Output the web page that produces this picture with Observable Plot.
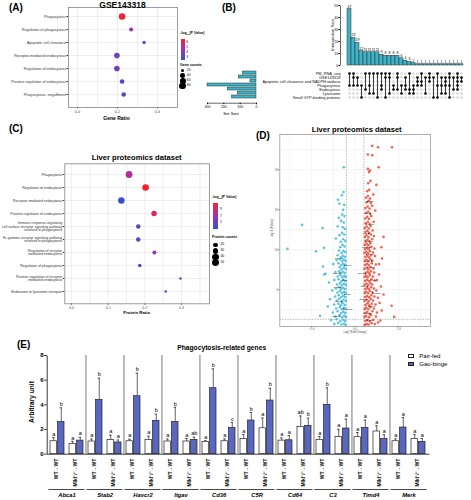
<!DOCTYPE html>
<html><head><meta charset="utf-8">
<script src="https://cdn.jsdelivr.net/npm/d3@7"></script>
<script src="https://cdn.jsdelivr.net/npm/@observablehq/plot@0.6"></script>
<style>
body{margin:0;background:#fff;}
#fig{position:relative;width:471px;height:500px;overflow:hidden;font-family:"Liberation Sans",Arial,Helvetica,sans-serif;background:#fff;}
.t{position:absolute;white-space:nowrap;line-height:1;color:#000;}
.box{position:absolute;border:0.8px solid #222;box-sizing:border-box;}
.dotl{position:absolute;border-radius:50%;background:#000;}
</style></head><body><div id="fig"></div>
<script>
// ---------------- DATA ----------------
// (A) GSE143318 enrichment
const catsA = ["Phagocytosis","Regulation of phagocytosis","Apoptotic cell clearance","Receptor-mediated endocytosis","Regulation of endocytosis","Positive regulation of endocytosis","Phagocytosis, engulfment"];
const ratioA = [0.223,0.268,0.333,0.197,0.197,0.223,0.231];
const logpA  = [6.6,4.6,3.3,3.6,3.6,3.0,2.9];
const countA = [80,30,22,58,58,40,38];
const legendA = [6,5,4,3];
const countTicksA = [20,40,60,80];

// (B) UpSet
const setNames = ["PM_RNA_seq","GSE143318","Apoptotic cell clearance and NADPH oxidase","Phagocytosis","Endocytosis","Lysosome","Small GTP-binding proteins"];
const setSizes = [82,108,37,300,176,115,149];
const interSizes = [47,23,19,12,11,11,11,11,9,8,8,8,8,6,4,3,2,1,1,1,1,1,1,1,1,1,1,1,1];
const interSets = [[0,3],[0,1,3],[1,3],[3,6],[0,4],[0,3,5],[0,5],[0,6],[0,3,4],[0,1,6],[0,1,5],[3,4],[0,1,4],[3,5],[1,3,4],[0,4,5],[3,4,5],
  [1,2,3],[0,2,3],[1,5],[0,1,2],[1,6],[0,3,6],[1,3,5],[1,2,3,5],[0,1,3,6],[1,4],[0,1,2,3,4],[1,2]];

// (C) Liver proteomics enrichment
const catsC = ["Phagocytosis","Regulation of endocytosis","Receptor-mediated endocytosis","Positive regulation of endocytosis",
  "Immune response-regulating\ncell surface receptor signaling pathway\ninvolved in phagocytosis",
  "Fc-gamma receptor signaling pathway\ninvolved in phagocytosis","Regulation of receptor\n-mediated endocytosis",
  "Regulation of phagocytosis","Positive regulation of receptor\n-mediated endocytosis","Endosome to lysosome transport"];
const ratioC = [0.157,0.202,0.136,0.225,0.182,0.182,0.226,0.186,0.297,0.257];
const logpC  = [7.8,10.8,3.6,9.5,4.4,4.5,6.3,4.0,6.0,5.0];
const countC = [50,48,46,32,22,22,18,14,7,7];
const legendC = [9,7,5];
const countTicksC = [20,30,40,50];

// (D) Volcano: [log2FC, -log10 P]
const downBlue = [[-0.44,0.6],[-0.52,0.75],[-0.63,0.65],[-0.78,0.85],[-0.95,0.7],[-1.61,1.75],[-0.47,1.1],[-0.56,1.25],[-0.68,1.05],[-0.85,1.3],[-1.1,1.2],
 [-0.43,1.6],[-0.5,1.75],[-0.6,1.55],[-0.72,1.8],[-0.9,1.65],[-0.46,2.1],[-0.55,2.25],[-0.65,2.05],[-0.8,2.3],[-1.02,2.15],
 [-0.44,2.6],[-0.52,2.75],[-0.61,2.55],[-0.7,2.8],[-0.87,2.65],[-1.25,2.9],[-0.48,3.1],[-0.57,3.3],[-0.66,3.05],[-0.77,3.25],[-0.96,3.15],
 [-0.43,3.6],[-0.53,3.75],[-0.62,3.55],[-0.73,3.85],[-0.84,3.65],[-1.15,3.8],[-0.46,4.1],[-0.55,4.25],[-0.64,4.05],[-0.75,4.3],[-0.92,4.15],
 [-0.44,4.6],[-0.51,4.75],[-0.6,4.55],[-0.69,4.8],[-0.81,4.65],[-1.05,4.9],[-0.47,5.1],[-0.56,5.25],[-0.65,5.05],[-0.74,5.3],[-0.88,5.15],
 [-0.43,5.6],[-0.52,5.75],[-0.61,5.55],[-0.7,5.8],[-0.83,5.65],[-1.2,5.9],[-0.46,6.1],[-0.55,6.25],[-0.63,6.05],[-0.76,6.3],[-0.95,6.2],
 [-0.44,6.6],[-0.5,6.75],[-0.59,6.55],[-0.68,6.8],[-0.8,6.65],[-1.36,7.0],[-1.42,6.9],[-0.48,7.1],[-0.57,7.25],[-0.66,7.05],[-0.73,7.3],[-0.9,7.2],
 [-0.43,7.6],[-0.53,7.75],[-0.62,7.55],[-0.71,7.8],[-1.47,7.9],[-0.46,8.1],[-0.55,8.25],[-0.64,8.05],[-0.77,8.3],[-1.0,8.2],
 [-0.44,8.6],[-0.52,8.75],[-0.6,8.55],[-0.7,8.8],[-0.85,8.7],[-0.47,9.1],[-0.56,9.25],[-0.65,9.05],[-0.8,9.3],[-1.79,9.8],
 [-0.45,9.7],[-0.54,9.85],[-0.62,9.6],[-0.74,9.9],[-3.1,10.1],[-1.42,10.25],[-0.48,10.4],[-0.58,10.6],[-0.68,10.3],
 [-0.45,11.1],[-0.55,11.3],[-0.66,11.0],[-0.88,11.4],[-0.5,11.9],[-0.6,12.1],[-0.72,11.8],[-0.47,12.6],[-0.57,12.8],[-1.49,12.7],[-0.8,12.9],
 [-0.52,13.4],[-0.64,13.6],[-2.43,13.1],[-0.49,14.2],[-0.6,14.4],[-0.75,14.0],[-0.55,15.0],[-0.72,15.75],[-0.5,15.6],
 [-0.79,16.25],[-0.61,16.8],[-0.53,17.2],[-0.52,20.3]];
const upRed = [[0.44,0.6],[0.52,0.7],[0.61,0.65],[0.75,0.8],[0.9,0.7],[1.05,0.9],[0.47,1.1],[0.56,1.2],[0.68,1.05],[0.83,1.25],[1.15,1.15],[1.79,1.6],
 [0.43,1.6],[0.5,1.7],[0.63,1.55],[0.72,1.8],[0.95,1.65],[0.46,2.1],[0.55,2.2],[0.66,2.0],[0.79,2.3],[1.0,2.15],[1.22,2.4],
 [0.44,2.6],[0.51,2.75],[0.6,2.55],[0.7,2.8],[0.86,2.65],[1.67,3.0],[0.48,3.1],[0.57,3.3],[0.65,3.05],[0.76,3.25],[0.93,3.15],[1.12,3.35],
 [0.43,3.6],[0.53,3.75],[0.62,3.55],[0.71,3.85],[0.82,3.65],[1.3,4.4],[0.46,4.1],[0.55,4.2],[0.64,4.05],[0.74,4.3],[0.88,4.15],[1.04,4.0],
 [0.44,4.6],[0.5,4.75],[0.59,4.55],[0.68,4.8],[0.8,4.65],[0.97,4.9],[0.47,5.1],[0.56,5.25],[0.63,5.05],[0.73,5.3],[0.86,5.15],[1.18,5.4],
 [0.43,5.6],[0.52,5.75],[0.6,5.55],[0.69,5.8],[0.78,5.65],[1.0,6.2],[0.46,6.1],[0.55,6.25],[0.64,6.05],[0.75,6.3],[0.9,6.15],
 [0.44,6.6],[0.51,6.75],[0.58,6.55],[0.67,6.8],[0.81,6.65],[1.1,6.9],[0.48,7.1],[0.57,7.25],[0.65,7.05],[0.72,7.3],[0.87,7.15],
 [0.43,7.6],[0.53,7.75],[0.61,7.55],[0.7,7.8],[0.84,7.65],[1.09,8.2],[0.46,8.1],[0.55,8.25],[0.63,8.05],[0.76,8.3],[0.95,8.15],[1.23,8.9],
 [0.44,8.6],[0.52,8.75],[0.6,8.55],[0.69,8.8],[0.79,8.65],[0.47,9.1],[0.56,9.25],[0.64,9.05],[0.73,9.3],[0.91,9.2],
 [0.43,9.6],[0.51,9.75],[0.59,9.55],[0.68,9.8],[0.82,9.65],[1.2,10.3],[0.46,10.1],[0.55,10.25],[0.62,10.05],[0.74,10.35],[0.88,10.15],
 [0.44,10.6],[0.53,10.75],[0.6,10.55],[0.7,10.8],[1.3,11.6],[0.48,11.1],[0.57,11.25],[0.66,11.05],[0.78,11.3],
 [0.45,11.6],[0.52,11.8],[0.61,11.55],[0.72,11.9],[0.86,11.7],[0.47,12.2],[0.56,12.35],[0.64,12.1],[0.8,12.4],
 [0.44,12.7],[0.53,12.9],[0.62,12.65],[0.71,12.95],[0.48,13.3],[0.58,13.45],[0.67,13.2],[0.85,13.5],
 [0.46,13.9],[0.55,14.1],[0.63,13.85],[0.74,14.2],[0.5,14.6],[0.6,14.75],[0.69,14.5],[0.92,14.9],
 [0.47,15.2],[0.57,15.4],[0.66,15.15],[0.78,15.5],[0.52,15.9],[0.62,16.1],[0.72,15.85],
 [0.49,16.5],[0.58,16.7],[0.68,16.4],[0.83,16.9],[0.55,17.3],[0.64,17.5],[0.97,18.1],[0.6,18.3],[0.7,18.6],
 [0.63,19.7],[0.68,19.9],[0.58,20.1],[1.08,20.3],[0.58,21.9],[0.78,21.8],[0.78,23.0],[1.05,22.8],[1.69,22.8]];
const labeledD = [["Cd36",0.55,16.0],["Rab7",0.7,14.5],["Lamp1",0.5,13.2],["Ctsd",0.62,12.0],["Cd68",0.48,11.0],["Clec4f",0.66,10.3],
 ["Marco",0.52,9.4],["Msr1",0.75,8.6],["Vsig4",0.58,7.8],["Cd163",0.47,7.0],["Lrp1",0.69,6.2],["Dab2",0.56,5.4],["Rab5a",0.8,4.6],
 ["Eea1",0.5,3.8],["Rac1",0.63,2.9],["Cdc42",0.72,2.0],["Snx9",0.55,1.2],
 ["Timd4",-0.6,8.9],["Mertk",-0.5,8.0],["Stab2",-0.7,7.1],["C3",-0.55,6.2],["Fcgr1",-0.66,5.3],["Itgav",-0.48,4.4],["Abca1",-0.62,3.5],["Havcr2",-0.52,2.6],["C5ar1",-0.7,1.7]];

// (E) qPCR bars: per gene [WT pair-fed, WT gao-binge, KO pair-fed, KO gao-binge]
const genesE = ["Abca1","Stab2","Havcr2","Itgav","Cd36","C5R","Cd64","C3","Timd4","Merk"];
const donorsE = ["WT→WT","Mlkl⁻/⁻→WT"];
const dietsE = ["Pair-fed","Gao-binge"];
const meanE = [[1.05,2.6,0.84,1.1],[1.03,4.4,1.16,0.95],[1.05,4.7,1.16,2.7],[1.03,2.6,1.03,1.16],[1.0,5.35,1.05,2.14],
  [1.22,2.73,2.1,4.35],[1.1,1.13,2.2,2.3],[1.16,4.0,1.4,2.08],[1.38,2.14,1.84,1.22],[1.05,2.16,1.22,1.0]];
const errE = [[0.3,1.16,0.2,0.27],[0.2,1.76,0.38,0.2],[0.16,1.87,0.3,0.54],[0.2,1.2,0.25,0.22],[0.1,1.57,0.19,0.43],
  [0.38,0.65,0.84,1.0],[0.22,0.38,0.9,0.62],[0.27,1.38,0.62,0.76],[0.38,0.62,0.46,0.35],[0.19,0.81,0.38,0.27]];
const letterE = [["a","b","a","a"],["a","b","a","a"],["a","b","a","b"],["a","b","a","ab"],["a","b","a","c"],
  ["a","b","a","b"],["a","a","ab","b"],["a","b","a","a"],["a","a","a","a"],["a","a","a","a"]];
const ticksE = [0,2,4,6,8];

// ---------------- HELPERS ----------------
const fig = document.getElementById("fig");
const FONT = "'Liberation Sans', Arial, Helvetica, sans-serif";
function addPlot(frame, opts) {
  const [l, t, r, b] = frame;
  const svg = Plot.plot({
    width: 471, height: 500,
    marginLeft: l, marginTop: t, marginRight: 471 - r, marginBottom: 500 - b,
    style: {background: "transparent", position: "absolute", left: "0px", top: "0px", overflow: "visible", maxWidth: "none", fontFamily: FONT},
    ...opts
  });
  fig.appendChild(svg);
  return svg;
}
function txt(s, x, y, o = {}) {
  const d = document.createElement("div");
  d.className = "t";
  d.innerHTML = s;
  d.style.left = x + "px"; d.style.top = y + "px";
  d.style.fontSize = (o.size || 5) + "px";
  d.style.fontWeight = o.bold ? "bold" : "normal";
  if (o.italic) d.style.fontStyle = "italic";
  if (o.color) d.style.color = o.color;
  const ax = o.anchor === "middle" ? "-50%" : o.anchor === "end" ? "-100%" : "0";
  d.style.transform = `translate(${ax},-50%)` + (o.rotate ? ` rotate(${o.rotate}deg)` : "");
  fig.appendChild(d);
  return d;
}
function grad(x, y, w, h, colors) {
  const d = document.createElement("div");
  d.style.cssText = `position:absolute;left:${x}px;top:${y}px;width:${w}px;height:${h}px;background:linear-gradient(${colors.join(",")});`;
  fig.appendChild(d);
}
function circ(cx, cy, r) {
  const d = document.createElement("div");
  d.className = "dotl";
  d.style.cssText += `left:${cx - r}px;top:${cy - r}px;width:${2 * r}px;height:${2 * r}px;`;
  fig.appendChild(d);
}
const BLUE = "#3552cc", PURP = "#a032b4", RED = "#f5222f";
const LOGSUB = "-log<sub style='font-size:70%;vertical-align:-0.3em;line-height:0'>10</sub>(P Value)";

// ---------------- (A) ----------------
{
  const data = catsA.map((c, i) => ({c, x: ratioA[i], p: logpA[i], n: countA[i]}));
  const rA = d3.scaleSqrt().domain([0, 80]).range([0, 3.3]);
  addPlot([68, 7, 177, 107], {
    x: {domain: [-0.045, 0.5], axis: null},
    y: {type: "point", domain: catsA, range: [15, 94], padding: 0, axis: null},
    color: {type: "linear", domain: [2.4, 4.55, 6.7], range: [BLUE, PURP, RED]},
    r: {domain: [0, 80], range: [0, 3.3]},
    marks: [
      Plot.frame({fill: "white"}),
      Plot.gridX([0, 0.1, 0.2, 0.3, 0.4], {stroke: "#e3e3e3", strokeOpacity: 1, strokeWidth: 0.6}),
      Plot.gridY({stroke: "#e3e3e3", strokeOpacity: 1, strokeWidth: 0.6}),
      Plot.dot(data, {x: "x", y: "c", r: "n", fill: "p"}),
      Plot.axisX({ticks: [0, 0.2, 0.4], tickFormat: ".1f", fontSize: 3.8, tickSize: 1.5, tickPadding: 1, color: "#4d4d4d", label: null}),
      Plot.axisY({fontSize: 3.7, tickSize: 1.5, tickPadding: 1, color: "#333", label: null}),
      Plot.frame({stroke: "#858585", strokeWidth: 0.8})
    ]
  });
  txt("(A)", 9, 7.5, {size: 10, bold: true});
  txt("GSE143318", 122.5, 4.5, {size: 8.5, bold: true, anchor: "middle"});
  txt("Gene Ratio", 116.5, 117.5, {size: 5, bold: true, anchor: "middle"});
  txt(LOGSUB, 180, 33.5, {size: 3.6, bold: true});
  grad(181, 39.3, 3.5, 20.7, [RED, PURP, BLUE]);
  legendA.forEach((v, i) => txt(String(v), 186.3, 42.7 + i * 5, {size: 3.3}));
  txt("Gene counts", 180, 66, {size: 3.6, bold: true});
  countTicksA.forEach((v, i) => { circ(182.7, 70.7 + i * 5.1, rA(v)); txt(String(v), 186.8, 70.7 + i * 5.1, {size: 3.3}); });
}

// ---------------- (B) ----------------
{
  const colIds = interSizes.map((_, i) => "c" + i);
  const xB = {type: "band", domain: colIds, range: [341, 469], paddingInner: 0.1, paddingOuter: 0.02, axis: null};
  const inter = interSizes.map((v, i) => ({col: colIds[i], v}));
  const w1 = 469 - 340, h1 = 60;
  addPlot([340, 5, 469, 65], {
    x: xB,
    y: {domain: [0, 50], axis: null},
    marks: [
      Plot.barY(inter, {x: "col", y: "v", fill: "#3fb4c8", stroke: "#1e1e1e", strokeWidth: 0.45}),
      Plot.text(inter, {x: "col", y: "v", text: "v", dy: -2.6, fontSize: 3.5}),
      Plot.axisY({ticks: [0, 10, 20, 30, 40, 50], fontSize: 3.5, tickSize: 1.5, tickPadding: 0.8, label: null}),
      Plot.frame({stroke: "#000", strokeWidth: 0.6, strokeDasharray: `0 ${2 * w1 + h1} ${h1} 0`})
    ]
  });
  const cells = [];
  interSets.forEach((s, i) => setNames.forEach((n, j) => cells.push({col: colIds[i], set: n, on: s.includes(j)})));
  const links = interSets.map((s, i) => ({col: colIds[i], a: setNames[d3.min(s)], b: setNames[d3.max(s)]}));
  addPlot([341, 67, 469, 102], {
    x: xB,
    y: {type: "point", domain: setNames, range: [70, 99.5], padding: 0, axis: null},
    marks: [
      Plot.dot(cells, {x: "col", y: "set", r: 1.35, fill: "#d8d8d8"}),
      Plot.ruleX(links, {x: "col", y1: "a", y2: "b", stroke: "#111", strokeWidth: 0.8}),
      Plot.dot(cells.filter(d => d.on), {x: "col", y: "set", r: 1.35, fill: "#111"}),
      Plot.axisY({fontSize: 3.9, tickSize: 0, tickPadding: 1.2, color: "#111", label: null})
    ]
  });
  const sz = setNames.map((n, i) => ({n, v: setSizes[i]}));
  const w2 = 256 - 207, h2 = 102.7 - 67.5;
  addPlot([207, 67.5, 256, 102.7], {
    x: {domain: [0, 300], range: [256, 207], axis: null},
    y: {type: "band", domain: setNames, range: [67.5, 102], paddingInner: 0.2, paddingOuter: 0.1, axis: null},
    marks: [
      Plot.barX(sz, {x: "v", y: "n", fill: "#3fb4c8", stroke: "#1e1e1e", strokeWidth: 0.45}),
      Plot.axisX({ticks: [0, 100, 200, 300], fontSize: 3.5, tickSize: 1.5, tickPadding: 0.8, label: null}),
      Plot.frame({stroke: "#000", strokeWidth: 0.6, strokeDasharray: `0 ${w2 + h2} ${w2} ${h2}`})
    ]
  });
  txt("(B)", 222, 8, {size: 10, bold: true});
  txt("Intersection Size", 333, 35, {size: 4.3, anchor: "middle", rotate: -90});
  txt("Set Size", 231, 113.7, {size: 4.2, anchor: "middle"});
}

// ---------------- (C) ----------------
{
  const data = catsC.map((c, i) => ({c, x: ratioC[i], p: logpC[i], n: countC[i]}));
  const rC = d3.scaleSqrt().domain([0, 50]).range([0, 3.4]);
  addPlot([64.3, 163.3, 209, 303.3], {
    x: {domain: [-0.018, 0.376], axis: null},
    y: {type: "point", domain: catsC, range: [171, 294.7], padding: 0, axis: null},
    color: {type: "linear", domain: [3.4, 7.1, 10.8], range: [BLUE, PURP, RED]},
    r: {domain: [0, 50], range: [0, 3.4]},
    marks: [
      Plot.frame({fill: "white"}),
      Plot.gridX([0, 0.05, 0.1, 0.15, 0.2, 0.25, 0.3, 0.35], {stroke: "#e3e3e3", strokeOpacity: 1, strokeWidth: 0.6}),
      Plot.gridY({stroke: "#e3e3e3", strokeOpacity: 1, strokeWidth: 0.6}),
      Plot.dot(data, {x: "x", y: "c", r: "n", fill: "p"}),
      Plot.axisX({ticks: [0, 0.1, 0.2, 0.3], tickFormat: ".1f", fontSize: 3.6, tickSize: 1.5, tickPadding: 1, color: "#4d4d4d", label: null}),
      Plot.axisY({fontSize: 3.5, lineHeight: 0.95, tickSize: 1.5, tickPadding: 1, color: "#333", label: null}),
      Plot.frame({stroke: "#858585", strokeWidth: 0.8})
    ]
  });
  txt("(C)", 9, 129, {size: 10, bold: true});
  txt("Liver proteomics dataset", 136.7, 158.3, {size: 7.6, bold: true, anchor: "middle"});
  txt("Protein Ratio", 136.7, 313, {size: 4.3, bold: true, anchor: "middle"});
  txt(LOGSUB, 212, 198.3, {size: 3.6, bold: true});
  grad(212.7, 203.3, 5, 26, [RED, PURP, BLUE]);
  legendC.forEach((v, i) => txt(String(v), 220, 209.7 + i * 6.8, {size: 3.3}));
  txt("Protein counts", 212, 238.3, {size: 3.6, bold: true});
  countTicksC.forEach((v, i) => { circ(215.5, 245 + i * 5.9, rC(v)); txt(String(v), 220.5, 245 + i * 5.9, {size: 3.3}); });
}

// ---------------- (D) ----------------
{
  const blue = downBlue.map(([x, y]) => ({x, y}));
  const red = upRed.map(([x, y]) => ({x, y}));
  const lab = labeledD.map(([g, x, y]) => ({g, x, y}));
  addPlot([279.3, 134, 430, 326], {
    x: {domain: [-3.45, 3.45], axis: null},
    y: {domain: [0.4, 24.4], axis: null},
    marks: [
      Plot.gridX([-3, -2, -1, 0, 1, 2, 3], {stroke: "#ececec", strokeOpacity: 1, strokeWidth: 0.5}),
      Plot.gridY([2.5, 5, 7.5, 10, 12.5, 15, 17.5, 20, 22.5], {stroke: "#ececec", strokeOpacity: 1, strokeWidth: 0.5}),
      Plot.ruleX([-0.4, 0.4], {stroke: "#8a8a8a", strokeWidth: 0.6, strokeDasharray: "1.5,1.2"}),
      Plot.ruleY([1.3], {stroke: "#8a8a8a", strokeWidth: 0.6, strokeDasharray: "1.5,1.2"}),
      Plot.dot(blue, {x: "x", y: "y", r: 1.3, fill: "#3dbad8", fillOpacity: 0.85}),
      Plot.dot(red, {x: "x", y: "y", r: 1.3, fill: "#ee4630", fillOpacity: 0.85}),
      Plot.dot(lab, {x: "x", y: "y", r: 0.6, fill: "#111"}),
      Plot.text(lab.filter((d, i) => i % 2 === 0), {x: "x", y: "y", text: "g", fontSize: 2.3, dx: 1.2, textAnchor: "start", fill: "#222"}),
      Plot.text(lab.filter((d, i) => i % 2 === 1), {x: "x", y: "y", text: "g", fontSize: 2.3, dx: -1.2, textAnchor: "end", fill: "#222"}),
      Plot.axisX({ticks: [-2, 0, 2], fontSize: 3, tickSize: 1, tickPadding: 0.8, color: "#555", label: null}),
      Plot.axisY({ticks: [5, 10, 15, 20], fontSize: 3, tickSize: 1, tickPadding: 0.8, color: "#555", label: null}),
      Plot.frame({stroke: "#9a9a9a", strokeWidth: 0.8})
    ]
  });
  txt("(D)", 256, 136, {size: 10, bold: true});
  txt("Liver proteomics dataset", 356.7, 129.5, {size: 7.6, bold: true, anchor: "middle"});
  txt("Log2 (Fold Change)", 355, 333, {size: 2.6, anchor: "middle", color: "#444"});
  txt("-log10 (P.Value)", 273, 228, {size: 2.6, anchor: "middle", rotate: -90, color: "#444"});
}

// ---------------- (E) ----------------
{
  const subKeys = [];
  genesE.forEach(g => donorsE.forEach(d => subKeys.push(g + "|" + d)));
  const band = d3.scaleBand().domain(subKeys).range([46.7, 429]).paddingInner(0.26).paddingOuter(0.15);
  const bw = band.bandwidth(), step = band.step(), half = bw / 2;
  const rows = [];
  genesE.forEach((g, gi) => donorsE.forEach((d, di) => dietsE.forEach((t, ti) => {
    const k = di * 2 + ti;
    rows.push({key: g + "|" + d, diet: t, m: meanE[gi][k], e: meanE[gi][k] + errE[gi][k], l: letterE[gi][k]});
  })));
  const pf = rows.filter(r => r.diet === "Pair-fed"), gb = rows.filter(r => r.diet === "Gao-binge");
  const cOff = bw / 4 + 0.25, capHalf = 1.3;
  const firstSubs = genesE.map(g => ({g, key: g + "|" + donorsE[0]}));
  const subs = subKeys.map(k => ({key: k, lab: k.split("|")[1]}));
  const wE = 429 - 46.7, hE = 453.7 - 355;
  addPlot([46.7, 355, 429, 453.7], {
    x: {type: "band", domain: subKeys, range: [46.7, 429], paddingInner: 0.26, paddingOuter: 0.15, axis: null},
    y: {domain: [0, 8], axis: null},
    marks: [
      Plot.ruleX(firstSubs.slice(1), {x: "key", y1: 0, y2: 8, dx: -step / 2, stroke: "#555", strokeWidth: 0.8}),
      Plot.ruleX(pf, {x: "key", y1: "m", y2: "e", dx: -cOff, stroke: "#222", strokeWidth: 0.7}),
      Plot.ruleX(gb, {x: "key", y1: "m", y2: "e", dx: cOff, stroke: "#222", strokeWidth: 0.7}),
      Plot.tickY(pf, {x: "key", y: "e", insetLeft: half / 2 - 0.25 - capHalf, insetRight: bw - (half / 2 - 0.25 + capHalf), stroke: "#222", strokeWidth: 0.7}),
      Plot.tickY(gb, {x: "key", y: "e", insetLeft: half + half / 2 + 0.25 - capHalf, insetRight: bw - (half + half / 2 + 0.25 + capHalf), stroke: "#222", strokeWidth: 0.7}),
      Plot.barY(pf, {x: "key", y: "m", insetRight: half + 0.5, fill: "white", stroke: "#222", strokeWidth: 0.7}),
      Plot.barY(gb, {x: "key", y: "m", insetLeft: half + 0.5, fill: "#5a66c0", stroke: "#222", strokeWidth: 0.7}),
      Plot.text(pf, {x: "key", y: "e", text: "l", dx: -cOff, dy: -3.6, fontSize: 5.6}),
      Plot.text(gb, {x: "key", y: "e", text: "l", dx: cOff, dy: -3.6, fontSize: 5.6}),
      Plot.text(subs, {x: "key", y: 0, text: "lab", rotate: -90, textAnchor: "end", dy: 4.5, dx: -1.5, fontSize: 5, fontWeight: "bold"}),
      Plot.tickY(firstSubs, {x: "key", y: 0, dy: 35.3, insetLeft: -1.5, insetRight: -(step + 1.5), stroke: "#333", strokeWidth: 0.9}),
      Plot.text(firstSubs, {x: "key", y: 0, text: "g", dx: step / 2, dy: 40.5, fontSize: 5.8, fontWeight: "bold", fontStyle: "italic"}),
      Plot.axisY({ticks: ticksE, fontSize: 6, fontWeight: "bold", tickSize: 2.5, tickPadding: 1, strokeWidth: 0.8, label: null}),
      Plot.frame({stroke: "#222", strokeWidth: 0.9, strokeDasharray: `0 ${wE + hE} ${wE + hE} 0`})
    ]
  });
  txt("(E)", 17, 345, {size: 10, bold: true});
  txt("Phagocytosis-related genes", 221.7, 348, {size: 6.7, bold: true, anchor: "middle"});
  txt("Arbitrary unit", 31.7, 402, {size: 6.6, bold: true, anchor: "middle", rotate: -90});
  const b1 = document.createElement("div"); b1.className = "box";
  b1.style.cssText += "left:408.3px;top:353.7px;width:6px;height:4px;background:#fff;"; fig.appendChild(b1);
  const b2 = document.createElement("div"); b2.className = "box";
  b2.style.cssText += "left:408.3px;top:362px;width:6px;height:4px;background:#5a66c0;"; fig.appendChild(b2);
  txt(dietsE[0], 419.3, 355.7, {size: 6});
  txt(dietsE[1], 419.3, 364, {size: 6});
}
</script></body></html>
